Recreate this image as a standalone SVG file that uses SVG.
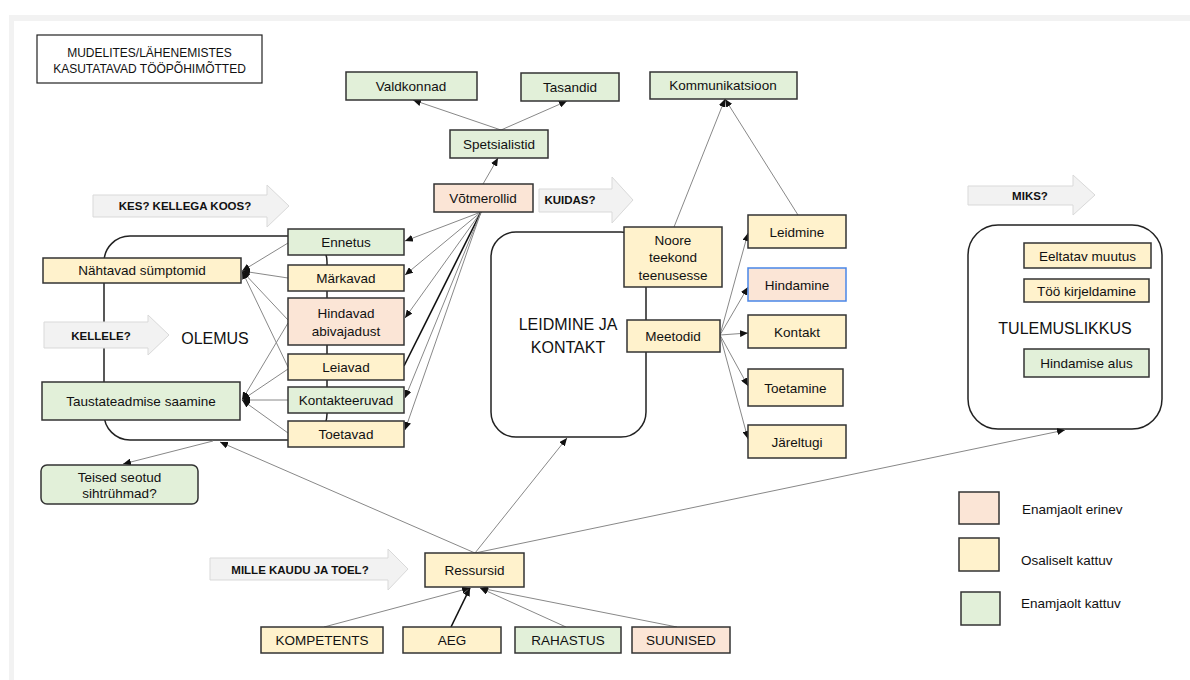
<svg xmlns="http://www.w3.org/2000/svg" width="1190" height="680" viewBox="0 0 1190 680">
<style>
text{font-family:"Liberation Sans",Arial,sans-serif;fill:#111;text-anchor:middle;dominant-baseline:central}
.t{font-size:13.5px}
.h{font-size:16px}
.b{font-size:11.5px;font-weight:bold}
.y{fill:#FFF2CC;stroke:#333;stroke-width:1.5}
.g{fill:#E2F0D9;stroke:#333;stroke-width:1.5}
.s{fill:#FBE5D6;stroke:#333;stroke-width:1.5}
.c{fill:none;stroke:#222;stroke-width:1.5}
.ba{fill:#F2F2F2;stroke:#D9D9D9;stroke-width:1}
.ln{stroke:#888;stroke-width:1;fill:none}
.bk{stroke:#111;stroke-width:1.6;fill:none}
.a{marker-end:url(#ah)}
</style>
<defs>
<marker id="ah" markerUnits="userSpaceOnUse" markerWidth="8" markerHeight="7" refX="8" refY="3.5" orient="auto">
<path d="M0,0 L8,3.5 L0,7 z" fill="#111"/>
</marker>
</defs>
<rect width="1190" height="680" fill="#fff"/>
<rect x="9" y="15" width="1181" height="6" fill="#f2f2f2"/>
<rect x="9" y="15" width="5" height="665" fill="#f2f2f2"/>

<g id="title"><rect x="37" y="35" width="225" height="48" fill="#fff" stroke="#222" stroke-width="1.2"/>
<text x="149.5" y="53" style="font-size:12px">MUDELITES/LÄHENEMISTES</text>
<text x="149.5" y="69" style="font-size:12px">KASUTATAVAD TÖÖPÕHIMÕTTED</text></g>

<g id="containers">
<rect id="olemus" class="c" x="104" y="236" width="223" height="204" rx="26"/>
<rect id="leidmine" class="c" x="491" y="232" width="155" height="205" rx="25"/>
<rect id="tulemuslikkus" class="c" x="968" y="225" width="194" height="204" rx="30"/>
</g>

<g id="block-arrows">
<g id="kes"><polygon class="ba" points="93,195 267,195 267,185 289,206 267,227 267,217 93,217"/><text class="b" x="185" y="206">KES? KELLEGA KOOS?</text></g>
<g id="kellele"><polygon class="ba" points="44,322 148,322 148,315 169,335 148,355 148,348 44,348"/><text class="b" x="101" y="336">KELLELE?</text></g>
<g id="kuidas"><polygon class="ba" points="539,189 612,189 612,177 633,200 612,223 612,212 539,212"/><text class="b" x="570" y="200">KUIDAS?</text></g>
<g id="miks"><polygon class="ba" points="968,186 1073,186 1073,175 1095,195 1073,215 1073,205 968,205"/><text class="b" x="1030" y="196">MIKS?</text></g>
<g id="mille"><polygon class="ba" points="210,558 388,558 388,549 408,569 388,590 388,580 210,580"/><text class="b" x="300" y="570">MILLE KAUDU JA TOEL?</text></g>
</g>

<g id="connectors">
<line class="ln a" x1="501" y1="130" x2="413" y2="100"/>
<line class="ln a" x1="501" y1="130" x2="567" y2="101"/>
<line class="ln a" x1="483" y1="184" x2="498" y2="158"/>
<line class="ln a" x1="674" y1="227" x2="725" y2="99"/>
<line class="ln a" x1="798" y1="215" x2="725" y2="99"/>
<line class="ln a" x1="481" y1="212" x2="405" y2="241"/>
<line class="ln a" x1="481" y1="212" x2="405" y2="275"/>
<line class="ln a" x1="481" y1="212" x2="405" y2="318"/>
<line class="bk" x1="481" y1="212" x2="404" y2="366"/>
<line class="ln a" x1="481" y1="212" x2="405" y2="398"/>
<line class="ln a" x1="481" y1="212" x2="405" y2="430"/>
<line class="ln a" x1="288" y1="243" x2="242" y2="271"/>
<line class="ln a" x1="288" y1="278" x2="242" y2="271"/>
<line class="ln a" x1="288" y1="320" x2="242" y2="271"/>
<line class="ln a" x1="288" y1="367" x2="242" y2="271"/>
<line class="ln a" x1="288" y1="323" x2="242" y2="400"/>
<line class="ln a" x1="288" y1="369" x2="242" y2="400"/>
<line class="ln a" x1="288" y1="400" x2="242" y2="400"/>
<line class="ln a" x1="288" y1="433" x2="242" y2="400"/>
<line class="ln a" x1="720" y1="335" x2="748" y2="233"/>
<line class="ln a" x1="720" y1="335" x2="748" y2="287"/>
<line class="ln a" x1="720" y1="335" x2="748" y2="333"/>
<line class="ln a" x1="720" y1="335" x2="748" y2="386"/>
<line class="ln a" x1="720" y1="335" x2="748" y2="439"/>
<line class="ln a" x1="475" y1="553" x2="220" y2="442"/>
<line class="ln a" x1="475" y1="553" x2="567" y2="438"/>
<line class="ln a" x1="475" y1="553" x2="1065" y2="430"/>
<line class="ln a" x1="213" y1="441" x2="123" y2="464"/>
<line class="ln a" x1="324" y1="627" x2="470" y2="588"/>
<line class="bk a" x1="451" y1="627" x2="470" y2="588"/>
<line class="ln a" x1="566" y1="627" x2="480" y2="588"/>
<line class="ln a" x1="677" y1="627" x2="480" y2="588"/>
</g>

<g id="valdkonnad"><rect class="g" x="346" y="72" width="131" height="28"/><text class="t" x="411" y="86">Valdkonnad</text></g>
<g id="tasandid"><rect class="g" x="521" y="73" width="98" height="28"/><text class="t" x="570" y="87">Tasandid</text></g>
<g id="kommunikatsioon"><rect class="g" x="650" y="72" width="147" height="27"/><text class="t" x="723" y="85">Kommunikatsioon</text></g>
<g id="spetsialistid"><rect class="g" x="450" y="130" width="98" height="28"/><text class="t" x="499" y="144">Spetsialistid</text></g>
<g id="votmerollid"><rect class="s" x="434" y="184" width="99" height="28"/><text class="t" x="483" y="198">Võtmerollid</text></g>

<g id="ennetus"><rect class="g" x="288" y="229" width="116" height="26"/><text class="t" x="346" y="242">Ennetus</text></g>
<g id="markavad"><rect class="y" x="288" y="265" width="116" height="26"/><text class="t" x="346" y="278">Märkavad</text></g>
<g id="hindavad"><rect class="s" x="288" y="298" width="116" height="47"/><text class="t" x="346" y="313">Hindavad</text><text class="t" x="346" y="331">abivajadust</text></g>
<g id="leiavad"><rect class="y" x="288" y="354" width="116" height="26"/><text class="t" x="346" y="367">Leiavad</text></g>
<g id="kontakteeruvad"><rect class="g" x="288" y="387" width="116" height="26"/><text class="t" x="346" y="400">Kontakteeruvad</text></g>
<g id="toetavad"><rect class="y" x="288" y="421" width="116" height="26"/><text class="t" x="346" y="434">Toetavad</text></g>

<g id="nahtavad"><rect class="y" x="43" y="258" width="198" height="25"/><text class="t" x="142" y="270.5">Nähtavad  sümptomid</text></g>
<g id="taustateadmise"><rect class="g" x="42" y="382" width="198" height="38"/><text class="t" x="141" y="401">Taustateadmise saamine</text></g>
<g id="teised"><rect class="g" x="41" y="465" width="157" height="39" rx="6"/><text class="t" x="119.5" y="477">Teised seotud</text><text class="t" x="119.5" y="493">sihtrühmad?</text></g>
<text class="h" x="215" y="338">OLEMUS</text>

<g id="noore"><rect class="y" x="624" y="227" width="98" height="60"/><text class="t" x="673" y="240">Noore</text><text class="t" x="673" y="257">teekond</text><text class="t" x="673" y="275">teenusesse</text></g>
<g id="meetodid"><rect class="y" x="627" y="320" width="93" height="32"/><text class="t" x="673" y="336">Meetodid</text></g>
<text class="h" x="568" y="324">LEIDMINE JA</text>
<text class="h" x="568" y="347">KONTAKT</text>

<g id="leidmine-n"><rect class="y" x="748" y="215" width="98" height="33"/><text class="t" x="797" y="232">Leidmine</text></g>
<g id="hindamine"><rect x="748" y="268" width="98" height="33" fill="#FBE5D6" stroke="#4A86E8" stroke-width="1.5"/><text class="t" x="797" y="285">Hindamine</text></g>
<g id="kontakt"><rect class="y" x="748" y="315" width="98" height="33"/><text class="t" x="797" y="332">Kontakt</text></g>
<g id="toetamine"><rect class="y" x="748" y="369" width="95" height="37"/><text class="t" x="795.5" y="388">Toetamine</text></g>
<g id="jareltugi"><rect class="y" x="748" y="425" width="98" height="33"/><text class="t" x="797" y="442">Järeltugi</text></g>

<g id="eeltatav"><rect class="y" x="1024" y="243" width="127" height="25"/><text class="t" x="1087.5" y="256">Eeltatav muutus</text></g>
<g id="too"><rect class="y" x="1024" y="279" width="125" height="23"/><text class="t" x="1086.5" y="291">Töö kirjeldamine</text></g>
<g id="hindamise-alus"><rect class="g" x="1024" y="349" width="125" height="28"/><text class="t" x="1086.5" y="363">Hindamise alus</text></g>
<text class="h" x="1065" y="328">TULEMUSLIKKUS</text>

<g id="ressursid"><rect class="y" x="425" y="553" width="99" height="34"/><text class="t" x="474.5" y="570">Ressursid</text></g>
<g id="kompetents"><rect class="y" x="261" y="627" width="122" height="26"/><text class="t" x="322" y="640">KOMPETENTS</text></g>
<g id="aeg"><rect class="y" x="403" y="627" width="98" height="26"/><text class="t" x="452" y="640">AEG</text></g>
<g id="rahastus"><rect class="g" x="515" y="627" width="106" height="26"/><text class="t" x="568" y="640">RAHASTUS</text></g>
<g id="suunised"><rect class="s" x="632" y="627" width="98" height="26"/><text class="t" x="681" y="640">SUUNISED</text></g>

<g id="legend">
<rect class="s" x="959" y="492" width="40" height="32"/><text class="t" x="1022" y="509" style="text-anchor:start">Enamjaolt erinev</text>
<rect class="y" x="959" y="538" width="40" height="33"/><text class="t" x="1021" y="560" style="text-anchor:start">Osaliselt kattuv</text>
<rect class="g" x="961" y="592" width="39" height="33"/><text class="t" x="1021" y="603" style="text-anchor:start">Enamjaolt kattuv</text>
</g>
</svg>
